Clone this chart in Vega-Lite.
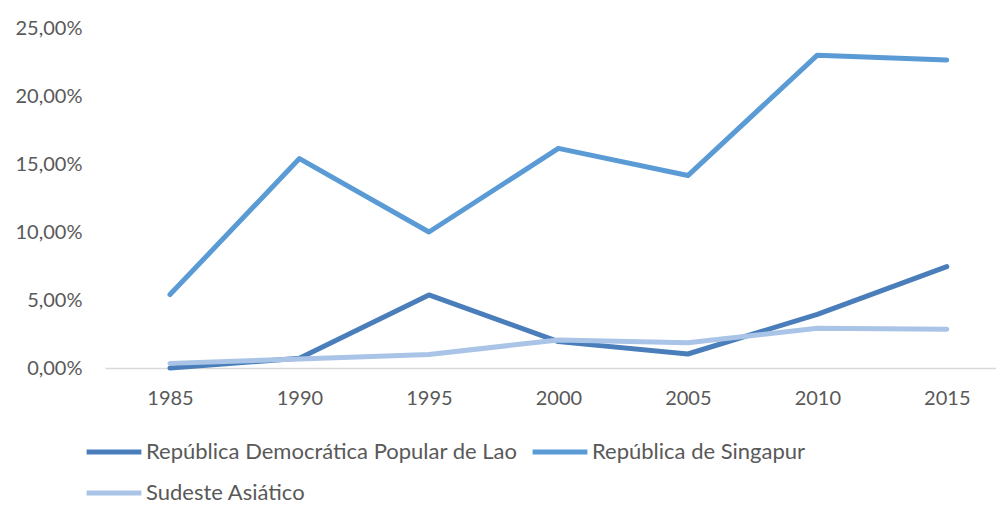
{
  "$schema": "https://vega.github.io/schema/vega-lite/v6.json",
  "autosize": {"type": "none"},
  "padding": {"left": 105, "top": 28, "right": 0, "bottom": 139},
  "width": 891,
  "height": 340,
  "background": "white",
  "config": {"view": {"stroke": null}},
  "data": {
    "values": [
      {"year": 1985, "serie": "República Democrática Popular de Lao", "valor": 0.0000},
      {"year": 1990, "serie": "República Democrática Popular de Lao", "valor": 0.0071},
      {"year": 1995, "serie": "República Democrática Popular de Lao", "valor": 0.0537},
      {"year": 2000, "serie": "República Democrática Popular de Lao", "valor": 0.0194},
      {"year": 2005, "serie": "República Democrática Popular de Lao", "valor": 0.0103},
      {"year": 2010, "serie": "República Democrática Popular de Lao", "valor": 0.0395},
      {"year": 2015, "serie": "República Democrática Popular de Lao", "valor": 0.0745},
      {"year": 1985, "serie": "República de Singapur", "valor": 0.0540},
      {"year": 1990, "serie": "República de Singapur", "valor": 0.1540},
      {"year": 1995, "serie": "República de Singapur", "valor": 0.1000},
      {"year": 2000, "serie": "República de Singapur", "valor": 0.1615},
      {"year": 2005, "serie": "República de Singapur", "valor": 0.1415},
      {"year": 2010, "serie": "República de Singapur", "valor": 0.2300},
      {"year": 2015, "serie": "República de Singapur", "valor": 0.2265},
      {"year": 1985, "serie": "Sudeste Asiático", "valor": 0.0034},
      {"year": 1990, "serie": "Sudeste Asiático", "valor": 0.0066},
      {"year": 1995, "serie": "Sudeste Asiático", "valor": 0.0100},
      {"year": 2000, "serie": "Sudeste Asiático", "valor": 0.0206},
      {"year": 2005, "serie": "Sudeste Asiático", "valor": 0.0186},
      {"year": 2010, "serie": "Sudeste Asiático", "valor": 0.0292},
      {"year": 2015, "serie": "Sudeste Asiático", "valor": 0.0285}
    ]
  },
  "mark": {"type": "line", "strokeWidth": 5, "strokeCap": "round", "strokeJoin": "round"},
  "encoding": {
    "x": {
      "field": "year",
      "type": "quantitative",
      "scale": {"domain": [1982.49, 2016.9], "nice": false, "zero": false},
      "axis": {
        "title": null,
        "values": [1985, 1990, 1995, 2000, 2005, 2010, 2015],
        "format": "d",
        "grid": false,
        "ticks": false,
        "domainColor": "#D9D9D9",
        "domainWidth": 1.5,
        "labelPadding": 20,
        "labelFont": "Lato",
        "labelFontSize": 20,
        "labelColor": "#595959",
        "labelFlush": false
      }
    },
    "y": {
      "field": "valor",
      "type": "quantitative",
      "scale": {"domain": [0, 0.25], "nice": false},
      "axis": {
        "title": null,
        "values": [0, 0.05, 0.1, 0.15, 0.2, 0.25],
        "labelExpr": "replace(format(datum.value, '.2%'), '.', ',')",
        "grid": false,
        "ticks": false,
        "domain": false,
        "labelPadding": 23,
        "labelFont": "Lato",
        "labelFontSize": 20,
        "labelColor": "#595959"
      }
    },
    "color": {
      "field": "serie",
      "type": "nominal",
      "sort": ["República Democrática Popular de Lao", "República de Singapur", "Sudeste Asiático"],
      "scale": {
        "domain": ["República Democrática Popular de Lao", "República de Singapur", "Sudeste Asiático"],
        "range": ["#4A7EBB", "#5B9BD5", "#A9C4E6"]
      },
      "legend": {
        "title": null,
        "orient": "none",
        "legendX": -21,
        "legendY": 394,
        "direction": "horizontal",
        "columns": 2,
        "columnPadding": 4,
        "rowPadding": -9,
        "symbolType": "stroke",
        "symbolSize": 3000,
        "symbolStrokeWidth": 5,
        "labelOffset": 2,
        "labelFont": "Lato",
        "labelFontSize": 22,
        "labelColor": "#595959",
        "labelLimit": 500
      }
    }
  }
}
